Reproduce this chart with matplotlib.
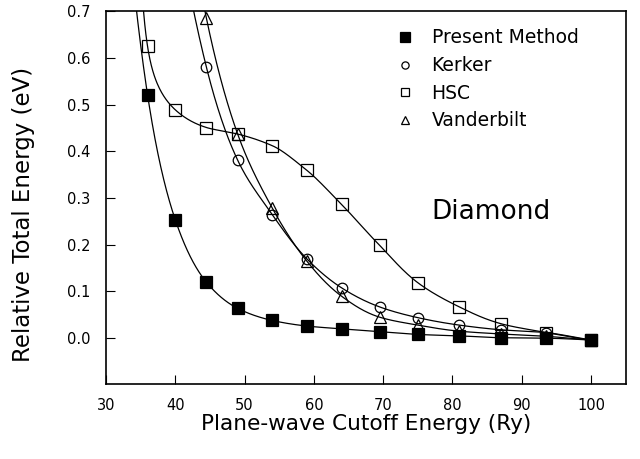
import numpy as np
import matplotlib
matplotlib.use("Agg")
import matplotlib.pyplot as plt
from matplotlib.lines import Line2D

# ---- data ----
cutoff = [36, 40, 44.5, 49, 54, 59, 64, 69.5, 75, 81, 87, 93.5, 100]
cutoff_kv = [44.5, 49, 54, 59, 64, 69.5, 75, 81, 87, 93.5, 100]

present = [0.521, 0.253, 0.119, 0.063, 0.037, 0.025, 0.019, 0.013, 0.007, 0.004, 0.000, -0.001, -0.005]
hsc = [0.625, 0.489, 0.451, 0.437, 0.412, 0.359, 0.286, 0.198, 0.118, 0.066, 0.030, 0.011, -0.005]
kerker = [0.580, 0.381, 0.264, 0.169, 0.107, 0.066, 0.043, 0.027, 0.017, 0.011, -0.005]
vanderbilt = [0.685, 0.437, 0.278, 0.164, 0.089, 0.044, 0.027, 0.014, 0.008, 0.003, -0.005]

labels = ["Present Method", "Kerker", "HSC", "Vanderbilt"]
xticks = [30, 40, 50, 60, 70, 80, 90, 100]
yticks = [0.0, 0.1, 0.2, 0.3, 0.4, 0.5, 0.6, 0.7]


def pchip(x, y, xq):
    x = np.asarray(x, float); y = np.asarray(y, float)
    h = np.diff(x); d = np.diff(y) / h
    n = len(x)
    m = np.zeros(n)
    for k in range(1, n - 1):
        if d[k - 1] * d[k] <= 0:
            m[k] = 0.0
        else:
            w1 = 2 * h[k] + h[k - 1]; w2 = h[k] + 2 * h[k - 1]
            m[k] = (w1 + w2) / (w1 / d[k - 1] + w2 / d[k])

    def end(h0, h1, d0, d1):
        v = ((2 * h0 + h1) * d0 - h0 * d1) / (h0 + h1)
        if np.sign(v) != np.sign(d0):
            v = 0.0
        elif np.sign(d0) != np.sign(d1) and abs(v) > 3 * abs(d0):
            v = 3 * d0
        return v
    m[0] = end(h[0], h[1], d[0], d[1])
    m[-1] = end(h[-1], h[-2], d[-1], d[-2])
    xq = np.asarray(xq, float)
    i = np.clip(np.searchsorted(x, xq) - 1, 0, n - 2)
    t = np.clip((xq - x[i]) / h[i], 0, None)
    h00 = 2 * t**3 - 3 * t**2 + 1
    h10 = t**3 - 2 * t**2 + t
    h01 = -2 * t**3 + 3 * t**2
    h11 = t**3 - t**2
    out = h00 * y[i] + h10 * h[i] * m[i] + h01 * y[i + 1] + h11 * h[i] * m[i + 1]
    left = xq < x[0]
    out[left] = y[0] + m[0] * (xq[left] - x[0])   # linear lead-in
    return out


def smooth(x, y, c=0.02, x0=None, ext=2.5):
    """Smooth monotone curve through the points (drawn in log(y+c) space)."""
    x = np.asarray(x, float)
    if x0 is None:
        xq = np.linspace(x[0] - ext, x[-1], 800)
        s, sq = x, xq
    else:
        xq = np.concatenate([x0 + np.geomspace(0.02, x[0] - x0, 200),
                             np.linspace(x[0], x[-1], 600)[1:]])
        s, sq = np.log(x - x0), np.log(xq - x0)
    t = np.log(np.asarray(y) + c)
    return xq, np.exp(pchip(s, t, sq)) - c


fig = plt.figure(figsize=(6.4, 4.59), dpi=100)
ax = fig.add_axes([0.1656, 0.1627, 0.8121, 0.8123])

series = [
    (cutoff, present, None, dict(marker="s", ms=8.2, mfc="black", mec="black")),
    (cutoff_kv, kerker, None, dict(marker="o", ms=7.6, mfc="none", mec="black")),
    (cutoff, hsc, 34.6, dict(marker="s", ms=8.0, mfc="none", mec="black")),
    (cutoff_kv, vanderbilt, None, dict(marker="^", ms=8.2, mfc="none", mec="black")),
]
for xs, ys, x0, st in series:
    cx, cy = smooth(xs, ys, x0=x0)
    ax.plot(cx, cy, color="black", lw=0.9, zorder=2)
    ax.plot(xs, ys, ls="none", mew=0.9, zorder=3, **st)

ax.set_xlim(30, 105)
ax.set_ylim(-0.1, 0.7)
ax.set_xticks(xticks)
ax.set_xticklabels([str(v) for v in xticks])
ax.set_yticks(yticks)
ax.set_yticklabels([f"{v:.1f}" for v in yticks])
ax.tick_params(direction="in", length=6.8, width=0.8, labelsize=10.5,
               top=False, right=False)
ax.tick_params(axis="x", pad=10)
ax.tick_params(axis="y", pad=11)
for sp in ax.spines.values():
    sp.set_linewidth(1.2)

ax.set_xlabel("Plane-wave Cutoff Energy (Ry)", fontsize=15.6, va="center")
ax.xaxis.set_label_coords(0.5, -0.107)
ax.set_ylabel("Relative Total Energy (eV)", fontsize=16.5, va="center")
ax.yaxis.set_label_coords(-0.159, 0.456)

ax.text(0.741, 0.462, "Diamond", transform=ax.transAxes, fontsize=19,
        ha="center", va="center")

handles = [
    Line2D([], [], ls="none", marker="s", ms=6.5, mfc="black", mec="black", mew=0.9),
    Line2D([], [], ls="none", marker="o", ms=5.2, mfc="none", mec="black", mew=0.9),
    Line2D([], [], ls="none", marker="s", ms=5.2, mfc="none", mec="black", mew=0.9),
    Line2D([], [], ls="none", marker="^", ms=6.0, mfc="none", mec="black", mew=0.9),
]
fig.legend(handles, labels, loc="upper left", bbox_to_anchor=(0.618, 0.938),
           bbox_transform=fig.transFigure, frameon=False, fontsize=13.5,
           handlelength=1.0, handletextpad=0.92, labelspacing=0.46,
           borderpad=0, borderaxespad=0)

fig.savefig("out.png", dpi=100)
